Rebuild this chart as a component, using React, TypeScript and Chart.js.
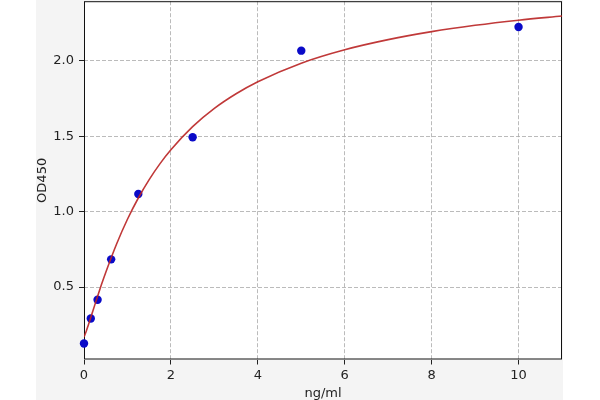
import React, { useEffect, useRef } from "react";
import { Chart, registerables } from "chart.js";

Chart.register(...registerables);

// Standard points (concentration ng/ml, OD450)
const stdConc = [0, 0.156, 0.3125, 0.625, 1.25, 2.5, 5, 10];
const stdOD = [0.126, 0.292, 0.416, 0.684, 1.117, 1.494, 2.068, 2.225];

// Fitted curve
const curveX = [0, 0.05, 0.1, 0.2, 0.3, 0.4, 0.5, 0.75, 1, 1.25, 1.5, 1.75, 2, 2.5, 3, 3.5, 4, 5, 6, 7, 8, 9, 10, 11];
const curveY = [0.17, 0.206, 0.249, 0.338, 0.428, 0.515, 0.597, 0.786, 0.95, 1.091, 1.213, 1.319, 1.411, 1.564, 1.685, 1.782, 1.862, 1.985, 2.074, 2.141, 2.194, 2.236, 2.27, 2.298];

const xTicks = [0, 2, 4, 6, 8, 10];
const yTicks = [0.5, 1.0, 1.5, 2.0];
const xRange = [0, 11];
const yRange = [0.02, 2.396];

const FONT = "'DejaVu Sans', sans-serif";
const SHIFT = 3;

const bgPlugin = {
  id: "bgPlugin",
  beforeDraw(chart: any) {
    const { ctx, chartArea } = chart;
    ctx.save();
    ctx.fillStyle = "#ffffff";
    ctx.fillRect(0, 0, chart.width, chart.height);
    ctx.fillStyle = "#f4f4f4";
    ctx.fillRect(36, 0, 527, chart.height);
    ctx.fillStyle = "#ffffff";
    ctx.fillRect(chartArea.left, chartArea.top, chartArea.right - chartArea.left, chartArea.bottom - chartArea.top);
    ctx.restore();
  },
  beforeDatasetsDraw(chart: any) {
    const { ctx, chartArea } = chart;
    ctx.save();
    ctx.strokeStyle = "#111111";
    ctx.lineWidth = 1;
    ctx.setLineDash([]);
    ctx.strokeRect(chartArea.left + 0.5, chartArea.top + 0.5, chartArea.right - chartArea.left - 1, chartArea.bottom - chartArea.top - 1);
    ctx.restore();
  },
};

export default function App() {
  const ref = useRef<HTMLCanvasElement | null>(null);
  useEffect(() => {
    if (!ref.current) return;
    const chart = new Chart(ref.current, {
      type: "scatter",
      data: {
        datasets: [
          {
            label: "fit",
            data: curveX.map((x, i) => ({ x, y: curveY[i] })),
            showLine: true,
            borderColor: "rgba(185,35,35,0.9)",
            borderWidth: 1.6,
            pointRadius: 0,
            cubicInterpolationMode: "monotone",
            order: 0,
          } as any,
          {
            label: "std",
            data: stdConc.map((x, i) => ({ x, y: stdOD[i] })),
            backgroundColor: "#0a0ac8",
            borderColor: "#0a0ac8",
            pointRadius: 4.2,
            borderWidth: 0,
            clip: false,
            order: 1,
          } as any,
        ],
      },
      options: {
        animation: false,
        responsive: false,
        devicePixelRatio: 1,
        layout: { padding: { left: 36, right: 38, top: 0, bottom: 0 } },
        plugins: { legend: { display: false }, tooltip: { enabled: false } },
        scales: {
          x: {
            type: "linear",
            min: xRange[0],
            max: xRange[1],
            afterBuildTicks: (s: any) => {
              s.ticks = xTicks.map((v) => ({ value: v }));
            },
            afterFit: (s: any) => {
              s.height = 40.5;
              s.paddingLeft = 0;
              s.paddingRight = 0;
            },
            grid: {
              color: "#aaaaaa",
              lineWidth: 0.8,
              drawTicks: true,
              tickLength: 5,
              tickColor: "#222222",
              tickWidth: 1,
            },
            border: { display: false, dash: [4, 2] },
            ticks: {
              color: "#222222",
              font: { family: FONT, size: 13 },
              padding: 3,
              maxRotation: 0,
              callback: (v: any) => String(v),
            },
            title: {
              display: true,
              text: "ng/ml",
              color: "#222222",
              font: { family: FONT, size: 13, lineHeight: 1 },
              padding: 0,
            },
          },
          y: {
            type: "linear",
            min: yRange[0],
            max: yRange[1],
            afterBuildTicks: (s: any) => {
              s.ticks = yTicks.map((v) => ({ value: v }));
            },
            afterFit: (s: any) => {
              s.width = 48;
              s.paddingTop = 0;
              s.paddingBottom = 0;
            },
            grid: {
              color: "#aaaaaa",
              lineWidth: 0.8,
              drawTicks: true,
              tickLength: 5,
              tickColor: "#222222",
              tickWidth: 1,
            },
            border: { display: false, dash: [4, 2] },
            ticks: {
              color: "#222222",
              font: { family: FONT, size: 13 },
              padding: 5,
              callback: (v: any) => Number(v).toFixed(1),
            },
            title: {
              display: true,
              text: "OD450",
              color: "#222222",
              font: { family: FONT, size: 13, lineHeight: 1 },
              padding: 0,
            },
          },
        },
      },
      plugins: [bgPlugin],
    });
    return () => chart.destroy();
  }, []);
  return (
    <div style={{ position: "fixed", left: 0, top: 0, width: 600, height: 400, overflow: "hidden" }}>
      <canvas
        ref={ref}
        width={600}
        height={400 + SHIFT}
        style={{ display: "block", marginTop: -SHIFT }}
      />
    </div>
  );
}
